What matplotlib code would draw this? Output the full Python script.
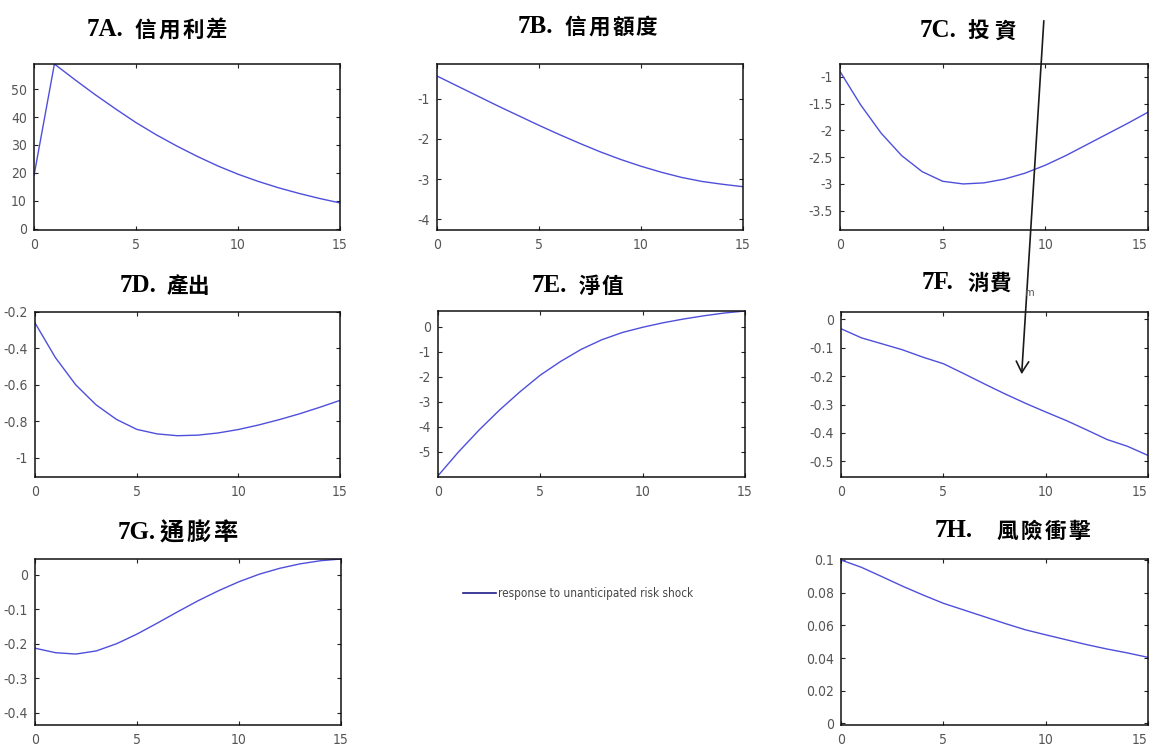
import os
import matplotlib
matplotlib.use("Agg")
import matplotlib.pyplot as plt
from matplotlib import font_manager
from matplotlib.font_manager import FontProperties
from matplotlib.lines import Line2D
from matplotlib.patches import FancyArrowPatch
from matplotlib.ticker import FuncFormatter, FixedLocator

FIG_W, FIG_H, DPI = 1152, 746, 100

# ---- impulse responses (quarters after the shock) ----
horizon = list(range(16))
x_ticks = [0, 5, 10, 15]

credit_spread = [19.0, 59.0, 53.4, 48.0, 42.9, 38.0, 33.6, 29.6, 25.9, 22.5,
                 19.5, 16.9, 14.6, 12.6, 10.8, 9.2]
credit_volume = [-0.43, -0.68, -0.93, -1.18, -1.42, -1.66, -1.89, -2.11, -2.32,
                 -2.51, -2.68, -2.83, -2.96, -3.06, -3.13, -3.19]
investment = [-0.90, -1.52, -2.05, -2.47, -2.77, -2.95, -3.00, -2.98, -2.91,
              -2.80, -2.65, -2.47, -2.27, -2.07, -1.87, -1.66]
output = [-0.26, -0.45, -0.60, -0.71, -0.79, -0.845, -0.870, -0.880, -0.877,
          -0.865, -0.846, -0.821, -0.792, -0.760, -0.724, -0.686]
net_worth = [-5.95, -5.00, -4.13, -3.33, -2.60, -1.93, -1.38, -0.90, -0.52,
             -0.23, -0.02, 0.16, 0.31, 0.44, 0.55, 0.63]
consumption = [-0.033, -0.065, -0.086, -0.107, -0.133, -0.156, -0.191, -0.227,
               -0.262, -0.295, -0.326, -0.356, -0.389, -0.423, -0.447, -0.479]
inflation = [-0.213, -0.226, -0.230, -0.221, -0.200, -0.172, -0.140, -0.107,
             -0.075, -0.046, -0.020, 0.002, 0.019, 0.032, 0.041, 0.046]
risk_shock = [0.100, 0.0955, 0.0898, 0.0840, 0.0786, 0.0735, 0.0694, 0.0653,
              0.0612, 0.0573, 0.0542, 0.0512, 0.0482, 0.0455, 0.0431, 0.0404]

panel_codes = ["7A.", "7B.", "7C.", "7D.", "7E.", "7F.", "7G.", "7H."]
panel_names = ["信用利差", "信用額度", "投資", "產出", "淨值", "消費", "通膨率", "風險衝擊"]
panel_series = [credit_spread, credit_volume, investment, output,
                net_worth, consumption, inflation, risk_shock]
panel_yticks = [
    [0, 10, 20, 30, 40, 50],
    [-4, -3, -2, -1],
    [-3.5, -3, -2.5, -2, -1.5, -1],
    [-1, -0.8, -0.6, -0.4, -0.2],
    [-5, -4, -3, -2, -1, 0],
    [-0.5, -0.4, -0.3, -0.2, -0.1, 0],
    [-0.4, -0.3, -0.2, -0.1, 0],
    [0, 0.02, 0.04, 0.06, 0.08, 0.1],
]
panel_ylims = [(-0.5, 59.0), (-4.27, -0.13), (-3.86, -0.76), (-1.107, -0.2),
               (-6.0, 0.63), (-0.555, 0.026), (-0.436, 0.046), (-0.001, 0.1006)]
legend_label = "response to unanticipated risk shock"

# ---- layout in pixels: axes boxes (left, top, right, bottom) ----
axes_boxes = [(34, 64, 340, 230), (437, 64, 743, 230), (840, 64, 1148, 230),
              (35, 312, 340, 477), (438, 311, 745, 477), (841, 312, 1148, 477),
              (35, 559, 341, 725), (841, 559, 1148, 725)]
# title layout: code x, CJK start x, CJK end x, baseline y, CJK size
title_boxes = [(87, 135, 227, 36, 15.5), (518, 565, 657, 33, 15.5),
               (920, 968, 1015, 37, 15.5), (120, 167, 208, 292, 15.5),
               (532, 579, 623, 292, 15.5), (922, 968, 1010, 289, 15.5),
               (118, 160, 237, 539, 17.5), (935, 997, 1090, 537, 15.5)]
right_column = {2, 5, 7}


def pick_narrow():
    prefs = ["LiberationSansNarrow-Regular", "DejaVuSansCondensed.",
             "RobotoCondensed-Regular", "OpenSans_Condensed-Regular",
             "OpenSansCondensed-Regular", "Arial Narrow", "ArialNarrow"]
    files = [f.fname for f in font_manager.fontManager.ttflist]
    for p in prefs:
        for fn in files:
            if p in os.path.basename(fn):
                return FontProperties(fname=fn), True
    return FontProperties(family="Liberation Sans"), False


narrow_fp, is_narrow = pick_narrow()
tick_size = 10 if is_narrow else 8.5
legend_size = 8.4 if is_narrow else 7.8
cjk_font = "Noto Sans CJK TC"

LINE_COLOR = "#4f4fdc"
TICK_TEXT = "#555555"


def fx(px):
    return px / FIG_W


def fy(py):
    return 1 - py / FIG_H


fig = plt.figure(figsize=(FIG_W / DPI, FIG_H / DPI), dpi=DPI, facecolor="white")

fmt = FuncFormatter(lambda v, p: "%g" % v)

for idx, (box, series, yt, ylim) in enumerate(
        zip(axes_boxes, panel_series, panel_yticks, panel_ylims)):
    l, t, r, b = box
    ax = fig.add_axes([fx(l), fy(b), (r - l) / FIG_W, (b - t) / FIG_H])
    ax.plot(horizon, series, color=LINE_COLOR, lw=1.0)
    ax.set_xlim(0, 15)
    ax.set_ylim(*ylim)
    ax.xaxis.set_major_locator(FixedLocator(x_ticks))
    ax.yaxis.set_major_locator(FixedLocator(yt))
    ax.xaxis.set_major_formatter(fmt)
    ax.yaxis.set_major_formatter(fmt)
    ax.tick_params(direction="in", length=3, width=0.8, top=True, right=True,
                   colors="#222222", labelcolor=TICK_TEXT)
    ax.tick_params(axis="x", pad=6)
    ax.tick_params(axis="y", pad=5)
    for lab in ax.get_xticklabels() + ax.get_yticklabels():
        lab.set_fontproperties(narrow_fp)
        lab.set_fontsize(tick_size)
    if idx in right_column:
        # last label sits against the page edge
        ax.get_xticklabels()[-1].set_horizontalalignment("right")
    for s in ax.spines.values():
        s.set_linewidth(1.1)
        s.set_color("#111111")

# panel titles: Latin code in bold serif, Chinese name spread across its span
for code, name, tb in zip(panel_codes, panel_names, title_boxes):
    cx, s0, s1, base, csize = tb
    fig.text(fx(cx), fy(base), code, family="Liberation Serif", weight="bold",
             fontsize=18, ha="left", va="baseline", color="black")
    glyph = csize * 1.36
    n = len(name)
    first, last = s0 + glyph / 2, s1 - glyph / 2
    for i, ch in enumerate(name):
        xc = first + (last - first) * i / (n - 1) if n > 1 else (s0 + s1) / 2
        fig.text(fx(xc), fy(base + 1), ch, family=cjk_font, weight="bold",
                 fontsize=csize, ha="center", va="baseline", color="black")

# legend in the empty slot of the bottom row
handle = Line2D([], [], color="#1c1c8a", lw=1.2)
leg_prop = narrow_fp.copy()
leg_prop.set_size(legend_size)
fig.legend([handle], [legend_label], loc="center left",
           bbox_to_anchor=(fx(457), fy(594)), frameon=False,
           handlelength=2.8, handletextpad=0.25, borderpad=0,
           prop=leg_prop, labelcolor="#444444")

# hand-drawn pointer arrow
arrow = FancyArrowPatch((fx(1044), fy(18)), (fx(1021.5), fy(377)),
                        transform=fig.transFigure,
                        arrowstyle="->,head_length=5,head_width=2.8",
                        color="#1a1a1a", lw=1.2, mutation_scale=1.6)
fig.add_artist(arrow)
m_prop = narrow_fp.copy()
m_prop.set_size(8)
fig.text(fx(1029), fy(293), "m", fontproperties=m_prop, color="#555555",
         ha="center", va="center")

fig.savefig("out.png", dpi=DPI, facecolor="white")
